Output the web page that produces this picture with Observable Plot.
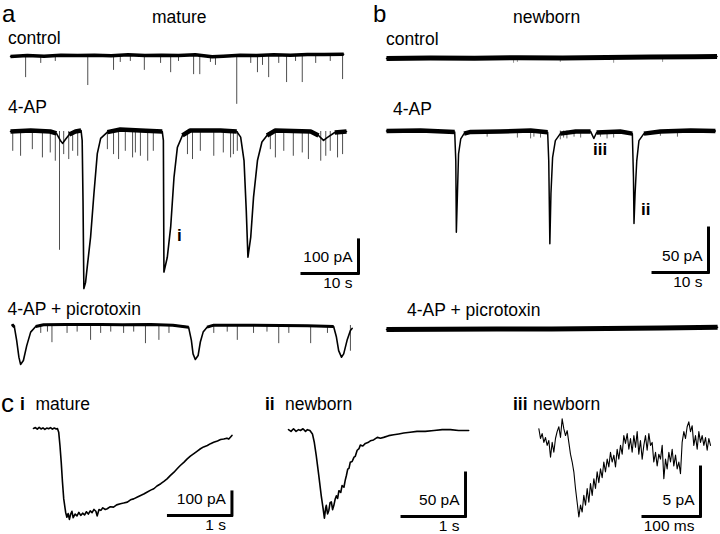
<!DOCTYPE html>
<html><head><meta charset="utf-8">
<script src="https://cdn.jsdelivr.net/npm/d3@7"></script>
<script src="https://cdn.jsdelivr.net/npm/@observablehq/plot@0.6"></script>
<style>
body{margin:0;background:#fff}
#fig{position:relative;width:720px;height:534px;overflow:hidden;font-family:"Liberation Sans",Arial,sans-serif}
#fig svg{position:absolute}
</style></head>
<body><div id="fig"></div>
<script>
// ---------- text ----------
const panelLetters = ["a", "b", "c"];
const groups = ["mature", "newborn"];
const conditions = ["control", "4-AP", "4-AP + picrotoxin"];
const insetTags = ["i", "ii", "iii"];
const insetGroups = ["mature", "newborn", "newborn"];

// ---------- scale bars (pA, time) ----------
const matureBar = {pA: 100, t: 10, unit: "s"};
const newbornBar = {pA: 50, t: 10, unit: "s"};
const insetBars = [{pA: 100, t: 1, unit: "s"}, {pA: 50, t: 1, unit: "s"}, {pA: 5, t: 100, unit: "ms"}];

// ---------- traces: [time (s), current (pA)] ----------
const matureControl = [[0,-3],[3,0],[6,-2],[9,1],[12,0],[15,1],[18,-1],[21,2],[24,0],[27,1],[30,0],[33,2],[36,-4],[38,-2],[41,1],[44,0],[47,2],[50,1],[53,3],[56,3],[59.5,4]];
const matureControlSpikes = [[2.7,-67],[5.4,-24],[8.0,-18],[13.8,-91],[18.4,-45],[19.6,-21],[21.4,-18],[23.9,-45],[26.8,-24],[28.6,-52],[30.0,-18],[32.7,-58],[33.8,-58],[35.7,-21],[36.6,-30],[40.4,-148],[42.9,-24],[44.1,-52],[45.0,-30],[46.1,-67],[47.9,-24],[49.3,-82],[50.9,-18],[52.1,-82],[54.5,-24],[57.1,-18],[59.3,-73]];

const mature4AP = [[0,0],[3.6,3],[7.1,0],[8.2,-6],[8.9,-27],[9.3,-36],[9.8,-24],[10.5,-9],[11.6,0],[12.6,3],[12.8,-27],[12.95,-209],[13.1,-476],[13.4,-458],[13.7,-411],[14.3,-320],[14.9,-188],[15.5,-67],[16.1,-21],[17.3,-2],[19.6,6],[23.2,3],[27.1,0],[27.3,-27],[27.4,-426],[28.0,-381],[28.6,-290],[29.2,-138],[29.8,-48],[30.7,-12],[32.1,3],[37.5,3],[40.4,0],[41.1,-17],[41.7,-88],[42.1,-239],[42.4,-381],[42.9,-320],[43.4,-199],[44.1,-88],[44.9,-32],[45.8,-12],[47.3,3],[53.6,0],[55.0,-12],[55.9,-27],[56.6,-18],[57.9,-3],[60.0,0]];
const mature4APSpikes = [[0.4,-60],[1.8,-75],[3.9,-55],[5.7,-80],[7.1,-65],[8.0,-90],[8.75,-360],[9.5,-70],[10.4,-85],[11.1,-60],[12.0,-75],[17.3,-55],[18.4,-70],[19.3,-85],[20.5,-60],[21.8,-80],[22.3,-65],[23.2,-75],[24.5,-90],[25.5,-60],[31.6,-70],[32.5,-85],[33.9,-60],[36.3,-75],[38.0,-65],[39.3,-80],[39.8,-70],[40.5,-60],[46.4,-55],[47.3,-80],[48.8,-60],[50.5,-75],[52.1,-65],[53.2,-85],[55.4,-90],[56.3,-75],[57.1,-60],[58.4,-80],[59.3,-70]];

const maturePicro = [[0.3,3],[0.7,-5],[1.1,-45],[1.5,-96],[1.8,-118],[2.3,-106],[2.9,-61],[3.6,-20],[4.5,-3],[5.9,2],[10,3],[16.1,3],[20,2],[25.0,3],[29,1],[31.8,-5],[32.3,-45],[32.6,-86],[33.0,-103],[33.5,-91],[33.9,-50],[34.4,-20],[35.1,-5],[36.3,1],[42,1],[48.2,0],[53,-1],[57.7,-3],[58.2,-35],[58.6,-76],[59.1,-96],[59.5,-86],[60.1,-45],[60.7,-15],[61.0,-9]];
const maturePicroSpikes = [[5.4,-24],[6.6,-20],[7.4,-52],[10.1,-24],[11.9,-20],[14.3,-45],[16.1,-24],[17.9,-20],[20.2,-24],[22.0,-20],[24.1,-55],[26.5,-45],[28.3,-24],[36.3,-24],[38.7,-20],[40.5,-45],[43.4,-24],[45.8,-20],[47.9,-55],[49.7,-24],[53.6,-55],[56.6,-24],[60.7,-78]];

const newbornControl = [[0,-0.5],[8,0],[16,-0.3],[24,0.3],[32,0],[40,0.6],[48,1],[56,1.4],[60.1,1.7]];
const newbornControlSpikes = [[23.1,-6],[23.8,-5],[31.6,-5],[41.3,-6],[50.2,-5]];

const newborn4AP = [[0,0],[6.2,0.6],[12.4,-1],[12.6,-34],[12.7,-115],[12.9,-71],[13.1,-26],[13.5,-9],[14.1,-3],[15.3,-1],[20.7,-0.5],[26.2,0.6],[29.3,-1.4],[29.5,-34],[29.7,-128],[29.9,-71],[30.2,-30],[30.7,-11],[31.6,-3],[34.4,-0.5],[37.1,-0.5],[37.7,-8.5],[38.2,-1.7],[42.5,-0.5],[44.7,-3],[44.9,-52],[45.0,-105],[45.2,-71],[45.5,-34],[45.9,-11],[46.8,-3],[49.8,-0.5],[55.3,0.6],[59.8,0]];
const newborn4APSpikes = [[18.3,-7],[23.8,-8],[26.2,-9],[26.8,-7],[28.0,-8],[31.6,-10],[32.2,-8],[32.8,-9],[34.1,-7],[35.3,-8],[38.9,-7],[40.1,-9],[41.3,-8],[49.8,-6],[52.9,-7]];

const newbornPicro = [[0,-0.5],[10,-0.3],[20,0],[30,0],[40,0.5],[50,1.2],[60.2,2]];

// insets: i (s, pA), ii (s, pA), iii (ms, pA)
const insetI = [[0,0],[0.03,4],[0.06,-3],[0.09,5],[0.12,-2],[0.15,3],[0.18,-4],[0.21,2],[0.24,-1],[0.27,4],[0.30,-3],[0.33,2],[0.36,-2],[0.38,0],[0.40,-16],[0.42,-74],[0.44,-146],[0.46,-233],[0.48,-306],[0.51,-364],[0.53,-386],[0.55,-370],[0.57,-395],[0.59,-372],[0.61,-360],[0.63,-388],[0.66,-372],[0.69,-380],[0.72,-365],[0.75,-378],[0.78,-368],[0.81,-376],[0.84,-362],[0.87,-372],[0.90,-358],[0.93,-366],[0.96,-352],[0.99,-360],[1.01,-380],[1.04,-352],[1.07,-356],[1.10,-345],[1.14,-352],[1.17,-349],[1.22,-340],[1.27,-342],[1.32,-332],[1.38,-327],[1.43,-324],[1.49,-320],[1.54,-310],[1.59,-306],[1.65,-298],[1.70,-291],[1.75,-285],[1.80,-277],[1.86,-268],[1.91,-262],[1.96,-250],[2.02,-240],[2.07,-230],[2.12,-219],[2.17,-205],[2.23,-190],[2.28,-175],[2.33,-161],[2.39,-146],[2.44,-132],[2.49,-120],[2.54,-110],[2.60,-98],[2.65,-88],[2.70,-80],[2.76,-74],[2.81,-66],[2.86,-60],[2.92,-54],[2.97,-48],[3.02,-46],[3.07,-42],[3.10,-46],[3.15,-30]];
const insetII = [[0,1],[0.04,-1],[0.08,2],[0.12,-1],[0.16,1],[0.19,0],[0.23,2],[0.27,-1],[0.30,1],[0.34,0],[0.38,-4],[0.41,-14],[0.44,-29],[0.48,-52],[0.52,-76],[0.55,-91],[0.57,-102],[0.59,-90],[0.60,-87],[0.62,-97],[0.64,-93],[0.66,-84],[0.68,-83],[0.70,-92],[0.72,-87],[0.74,-80],[0.76,-76],[0.78,-79],[0.80,-70],[0.83,-72],[0.85,-64],[0.88,-66],[0.90,-58],[0.92,-52],[0.94,-45],[0.96,-44],[0.98,-37],[1.01,-36],[1.04,-31],[1.06,-30],[1.09,-23],[1.12,-21],[1.14,-17],[1.18,-18],[1.22,-15],[1.26,-14],[1.30,-12],[1.35,-11],[1.41,-8],[1.46,-9],[1.51,-8],[1.59,-6],[1.67,-5],[1.75,-4],[1.83,-3],[1.93,-2],[2.04,-1],[2.17,-1],[2.31,0],[2.44,1],[2.57,1],[2.70,0],[2.86,0]];
const insetIII = [[0.6,1.0],[3.5,0.0],[6.4,0.5],[9.4,-0.4],[12.3,0.1],[15.2,-0.7],[18.1,-0.2],[21.1,-1.9],[24.0,-0.4],[26.9,-1.4],[29.8,0.0],[32.7,0.7],[35.7,1.2],[38.6,0.1],[41.5,2.0],[44.4,1.0],[47.4,0.3],[50.3,0.8],[53.2,-0.4],[56.1,-1.6],[59.1,-2.4],[62.0,-3.4],[64.9,-5.1],[67.8,-6.5],[70.8,-8.0],[73.7,-6.8],[76.6,-7.5],[79.5,-5.8],[82.5,-6.8],[85.4,-5.1],[88.3,-6.5],[91.2,-4.6],[94.2,-5.8],[97.1,-4.1],[100.0,-5.1],[102.9,-3.4],[105.8,-4.5],[108.8,-3.1],[111.7,-4.0],[114.6,-2.4],[117.5,-3.4],[120.5,-2.1],[123.4,-2.9],[126.3,-1.4],[129.2,-2.4],[132.2,-1.7],[135.1,-2.9],[138.0,-1.1],[140.9,-2.1],[143.9,-0.7],[146.8,-1.6],[149.7,0.3],[152.6,-0.5],[155.6,0.5],[158.5,-1.1],[161.4,0.0],[164.3,-1.4],[167.3,0.3],[170.2,-0.9],[173.1,0.7],[176.0,-1.6],[178.9,-0.2],[181.9,-2.1],[184.8,-0.7],[187.7,0.3],[190.6,-1.2],[193.6,0.5],[196.5,-0.7],[199.4,-0.4],[202.3,-2.4],[205.3,-1.4],[208.2,-2.8],[211.1,-1.6],[214.0,-2.1],[217.0,-0.7],[219.9,-4.1],[222.8,-2.1],[225.7,-3.1],[228.7,-1.4],[231.6,-2.4],[234.5,-1.1],[237.4,-2.8],[240.4,-1.7],[243.3,-3.1],[246.2,-2.4],[249.1,-3.6],[252.0,-0.4],[255.0,0.7],[257.9,0.0],[260.8,1.2],[263.7,1.7],[266.7,0.7],[269.6,1.3],[272.5,-0.7],[275.4,0.3],[278.4,-1.1],[281.3,0.7],[284.2,-0.4],[287.1,0.3],[290.1,-0.7],[293.0,0.1],[295.9,-1.2],[298.8,0.0],[301.8,-0.7]];

// ---------- drawing ----------
const fig = document.getElementById("fig");
const FONT = "Liberation Sans, Arial, sans-serif";
const X = d => d[0], Y = d => d[1];

function panel({left, top, width, height, x0, y0, sx, sy, marks}) {
  const p = Plot.plot({
    width, height, margin: 0,
    x: {domain: [(left - x0) / sx, (left + width - x0) / sx], axis: null},
    y: {domain: [(y0 - (top + height)) / sy, (y0 - top) / sy], axis: null},
    style: {background: "transparent", overflow: "visible", fontFamily: FONT, color: "black"},
    marks
  });
  p.style.left = left + "px";
  p.style.top = top + "px";
  p.style.maxWidth = "none";
  fig.append(p);
}

function traceMarks(data, {width = 1.6, band = 0, cut = -15, spikes = null, spikeColor = "#3a3a3a"} = {}) {
  const m = [];
  if (spikes) m.push(Plot.ruleX(spikes, {x: X, y1: 0, y2: Y, stroke: spikeColor, strokeWidth: 0.9}));
  if (band) m.push(Plot.line(data, {x: X, y: d => d[1] > cut ? d[1] : NaN, stroke: "black", strokeWidth: band, strokeLinecap: "butt"}));
  m.push(Plot.line(data, {x: X, y: Y, stroke: "black", strokeWidth: width}));
  return m;
}

function scaleBar(tEnd, iBot, bar) {
  const sw = 3;
  return [
    Plot.ruleX([tEnd], {y1: iBot, y2: iBot + bar.pA, stroke: "black", strokeWidth: sw, strokeLinecap: "square"}),
    Plot.ruleY([iBot], {x1: tEnd - bar.t, x2: tEnd, stroke: "black", strokeWidth: sw, strokeLinecap: "square"}),
    Plot.text([`${bar.pA} pA`], {x: tEnd, y: iBot, text: d => d, dx: -6, dy: -16, textAnchor: "end", fontSize: 15.5}),
    Plot.text([`${bar.t} ${bar.unit}`], {x: tEnd, y: iBot, text: d => d, dx: -6, dy: 10, textAnchor: "end", fontSize: 15.5})
  ];
}

// a: mature (5.6 px/s, 0.33 px/pA)
const aS = {x0: 10, sx: 5.6, sy: 0.33};
panel({left: 0, top: 40, width: 370, height: 75, y0: 55, ...aS,
  marks: traceMarks(matureControl, {width: 1.5, band: 3.5, cut: -15, spikes: matureControlSpikes})});
panel({left: 0, top: 115, width: 370, height: 185, y0: 131, ...aS,
  marks: [...traceMarks(mature4AP, {width: 1.6, band: 4.5, cut: -15, spikes: mature4APSpikes}),
          ...scaleBar(62.14, -430, matureBar)]});
panel({left: 0, top: 300, width: 370, height: 80, y0: 325, ...aS,
  marks: traceMarks(maturePicro, {width: 1.6, band: 3, cut: -8, spikes: maturePicroSpikes})});

// b: newborn (5.5 px/s, 0.88 px/pA)
const bS = {x0: 386, sx: 5.5, sy: 0.88};
panel({left: 370, top: 40, width: 350, height: 60, y0: 57.5, ...bS,
  marks: traceMarks(newbornControl, {width: 1.5, band: 5, cut: -5, spikes: newbornControlSpikes, spikeColor: "#888"})});
panel({left: 370, top: 115, width: 350, height: 185, y0: 130.5, ...bS,
  marks: [...traceMarks(newborn4AP, {width: 1.5, band: 4.5, cut: -5, spikes: newborn4APSpikes, spikeColor: "#555"}),
          ...scaleBar(58.55, -160.8, newbornBar)]});
panel({left: 370, top: 300, width: 350, height: 80, y0: 328.5, ...bS,
  marks: traceMarks(newbornPicro, {width: 1.5, band: 5, cut: -5})});

// c: insets
panel({left: 0, top: 415, width: 250, height: 119, x0: 33, y0: 428, sx: 63, sy: 0.23,
  marks: [Plot.line(insetI, {x: X, y: Y, stroke: "black", strokeWidth: 1.6}), ...scaleBar(3.15, -378, insetBars[0])]});
panel({left: 250, top: 415, width: 240, height: 119, x0: 288, y0: 430, sx: 63, sy: 0.86,
  marks: [Plot.line(insetII, {x: X, y: Y, stroke: "black", strokeWidth: 1.6}), ...scaleBar(2.81, -100, insetBars[1])]});
panel({left: 490, top: 415, width: 230, height: 119, x0: 538, y0: 438, sx: 0.57, sy: 9.8,
  marks: [Plot.line(insetIII, {x: X, y: Y, stroke: "black", strokeWidth: 1.1}), ...scaleBar(284.2, -7.96, insetBars[2])]});

// ---------- labels ----------
const svg = d3.create("svg").attr("width", 720).attr("height", 534)
  .style("left", "0px").style("top", "0px").style("pointer-events", "none")
  .attr("font-family", FONT).attr("fill", "black");
function label(txt, x, y, size = 17.5, weight = "normal") {
  svg.append("text").attr("x", x).attr("y", y).attr("font-size", size).attr("font-weight", weight).text(txt);
}
label(panelLetters[0], 2, 22, 24);
label(panelLetters[1], 373, 22, 24);
label(panelLetters[2], 1, 412, 26);
label(groups[0], 152, 22.7);
label(groups[1], 513, 22.7);
label(conditions[0], 8, 43.5);
label(conditions[1], 8, 113);
label(conditions[2], 7.5, 315);
label(conditions[0], 386, 45);
label(conditions[1], 393, 115);
label(conditions[2], 407, 316);
// inset titles
label(insetTags[0], 20, 410, 17.5, "bold");  label(insetGroups[0], 35.5, 410);
label(insetTags[1], 265, 410, 17.5, "bold"); label(insetGroups[1], 285, 410);
label(insetTags[2], 513, 410, 17.5, "bold"); label(insetGroups[2], 533, 410);
// event markers on traces
label(insetTags[0], 177, 241, 17, "bold");
label(insetTags[2], 593, 155, 17, "bold");
label(insetTags[1], 641, 215, 17, "bold");
fig.append(svg.node());
</script>
</body></html>
